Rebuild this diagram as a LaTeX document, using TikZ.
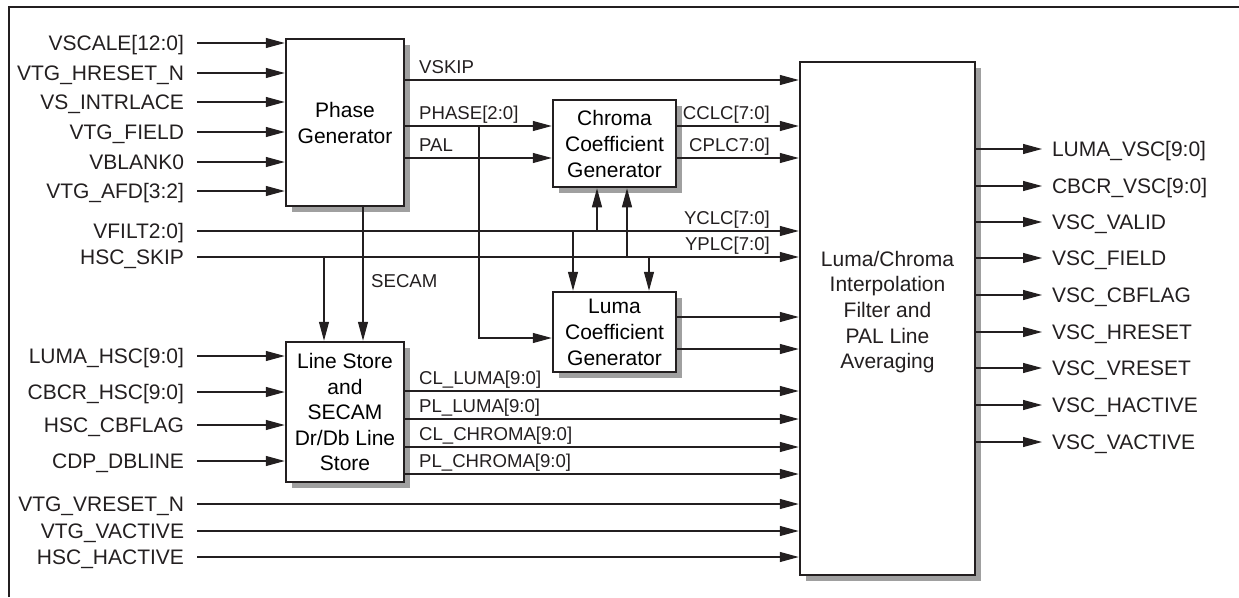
\documentclass[tikz,border=0pt]{standalone}
\usepackage{fontspec}
\setmainfont{Liberation Sans}
\usetikzlibrary{arrows.meta,calc}
\definecolor{ink}{HTML}{231F20}
\definecolor{shadowgray}{HTML}{A0A0A0}
\begin{document}
\begin{tikzpicture}[x=1pt,y=-1pt,
  big/.style={font=\fontsize{21}{26}\selectfont},
  small/.style={font=\fontsize{18.6}{22}\selectfont},
  wire/.style={line width=1.2pt, draw=ink},
  arr/.style={wire, -{Triangle[length=19pt,width=10pt]}},
  blk/.style={draw=ink, line width=2.5pt, fill=white, align=center, big, inner sep=0pt,
    preaction={fill=shadowgray, transform canvas={shift={(5.5pt,-5.5pt)}}}},
  inl/.style={big, text=ink, anchor=east, inner xsep=6.5pt, outer xsep=6.5pt, inner ysep=0pt, text height=15pt, text depth=0pt},
  outl/.style={big, text=ink, anchor=west, inner xsep=5pt, outer xsep=5pt, inner ysep=0pt, text height=15pt, text depth=0pt},
  sig/.style={small, text=ink, anchor=base west, inner sep=0pt},
  sigr/.style={small, text=ink, anchor=base east, inner sep=0pt}]
\useasboundingbox (0,0) rectangle (1239,597);
% frame
\draw[ink, line width=1.5pt] (9,597) -- (9,7) -- (1239,7);

% blocks
\node[blk, minimum width=118pt, minimum height=167pt] (pg) at (345,122.5) {Phase\\Generator};
\node[blk, minimum width=123pt, minimum height=87pt] (cc) at (614.5,143.5) {Chroma\\Coefficient\\Generator};
\node[blk, minimum width=123pt, minimum height=80pt] (yc) at (614.5,332) {Luma\\Coefficient\\Generator};
\node[blk, minimum width=118pt, minimum height=140pt, font=\fontsize{21}{25.5}\selectfont] (ls) at (345,412) {Line Store\\and\\SECAM\\Dr/Db Line\\Store};
\node[blk, minimum width=175pt, minimum height=513pt] (lc) at (887.5,318.5) {};
\node[big, text=ink, align=center, font=\fontsize{21}{25.6}\selectfont] (lctext) at (887.5,312) {Luma/Chroma\\Interpolation\\Filter and\\PAL Line\\Averaging};

% phase generator inputs
\node[inl] (i1) at (197,43) {VSCALE[12:0]};
\node[inl] (i2) at (197,73) {VTG\_HRESET\_N};
\node[inl] (i3) at (197,102) {VS\_INTRLACE};
\node[inl] (i4) at (197,132) {VTG\_FIELD};
\node[inl] (i5) at (197,162) {VBLANK0};
\node[inl] (i6) at (197,191) {VTG\_AFD[3:2]};
\foreach \n in {i1,i2,i3,i4,i5,i6} \draw[arr] (\n.east) -- (\n.east -| pg.west);

% VFILT / HSC_SKIP
\node[inl] (vf) at (197,231) {VFILT2:0]};
\node[inl] (hs) at (197,257) {HSC\_SKIP};
\draw[arr] (vf.east) -- (vf.east -| lc.west);
\draw[arr] (hs.east) -- (hs.east -| lc.west);
\node[sigr] (yclc) at (770,224) {YCLC[7:0]};
\node[sigr] (yplc) at (770,250) {YPLC[7:0]};

% branches to coefficient generators
\draw[arr] ([xshift=-17.5pt]cc.south |- vf.east) -- ([xshift=-17.5pt]cc.south);
\draw[arr] ([xshift=12.5pt]cc.south |- hs.east) -- ([xshift=12.5pt]cc.south);
\draw[arr] ([xshift=-41.5pt]yc.north |- vf.east) -- ([xshift=-41.5pt]yc.north);
\draw[arr] ([xshift=34.5pt]yc.north |- hs.east) -- ([xshift=34.5pt]yc.north);
\draw[arr] ([xshift=-21pt]ls.north |- hs.east) -- ([xshift=-21pt]ls.north);

% SECAM
\draw[arr] ([xshift=18pt]pg.south) -- ([xshift=18pt]ls.north);
\node[sig] (secam) at (371,287) {SECAM};

% phase generator outputs
\draw[arr] (pg.east |- 0,80) -- (lc.west |- 0,80);
\node[sig] (vskip) at (419,73) {VSKIP};
\draw[arr] (pg.east |- 0,126) -- (cc.west |- 0,126);
\node[sig] (phase) at (419,119) {PHASE[2:0]};
\draw[arr] (pg.east |- 0,158) -- (cc.west |- 0,158);
\node[sig] (pal) at (419,151) {PAL};
\draw[arr] (479,126) -- (479,338) -- (yc.west |- 0,338);

% chroma outputs
\draw[arr] (cc.east |- 0,126) -- (lc.west |- 0,126);
\node[sigr] (cclc) at (770,119) {CCLC[7:0]};
\draw[arr] (cc.east |- 0,158) -- (lc.west |- 0,158);
\node[sigr] (cplc) at (770,151) {CPLC7:0]};

% luma outputs
\draw[arr] (yc.east |- 0,317) -- (lc.west |- 0,317);
\draw[arr] (yc.east |- 0,349) -- (lc.west |- 0,349);

% line store inputs
\node[inl] (l1) at (197,356) {LUMA\_HSC[9:0]};
\node[inl] (l2) at (197,392) {CBCR\_HSC[9:0]};
\node[inl] (l3) at (197,425) {HSC\_CBFLAG};
\node[inl] (l4) at (197,461) {CDP\_DBLINE};
\foreach \n in {l1,l2,l3,l4} \draw[arr] (\n.east) -- (\n.east -| ls.west);

% line store outputs
\draw[arr] (ls.east |- 0,391) -- (lc.west |- 0,391);
\node[sig] (cll) at (419,384) {CL\_LUMA[9:0]};
\draw[arr] (ls.east |- 0,419) -- (lc.west |- 0,419);
\node[sig] (pll) at (419,412) {PL\_LUMA[9:0]};
\draw[arr] (ls.east |- 0,447) -- (lc.west |- 0,447);
\node[sig] (clc) at (419,440) {CL\_CHROMA[9:0]};
\draw[arr] (ls.east |- 0,474) -- (lc.west |- 0,474);
\node[sig] (plc) at (419,467) {PL\_CHROMA[9:0]};

% direct inputs
\node[inl] (d1) at (197,504) {VTG\_VRESET\_N};
\node[inl] (d2) at (197,531) {VTG\_VACTIVE};
\node[inl] (d3) at (197,557) {HSC\_HACTIVE};
\foreach \n in {d1,d2,d3} \draw[arr] (\n.east) -- (\n.east -| lc.west);

% outputs
\node[outl] (o1) at (1042,149) {LUMA\_VSC[9:0]};
\node[outl] (o2) at (1042,186) {CBCR\_VSC[9:0]};
\node[outl] (o3) at (1042,222) {VSC\_VALID};
\node[outl] (o4) at (1042,258) {VSC\_FIELD};
\node[outl] (o5) at (1042,295) {VSC\_CBFLAG};
\node[outl] (o6) at (1042,332) {VSC\_HRESET};
\node[outl] (o7) at (1042,368) {VSC\_VRESET};
\node[outl] (o8) at (1042,405) {VSC\_HACTIVE};
\node[outl] (o9) at (1042,442) {VSC\_VACTIVE};
\foreach \n in {o1,o2,o3,o4,o5,o6,o7,o8,o9} \draw[arr] (\n.west -| lc.east) -- (\n.west);
\end{tikzpicture}
\end{document}
